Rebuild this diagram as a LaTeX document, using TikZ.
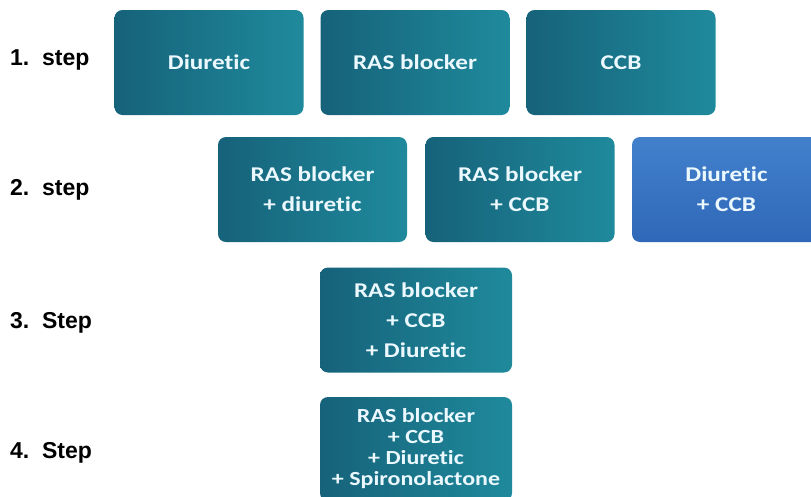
\documentclass[tikz,border=0pt]{standalone}
\usepackage{fontspec}
\setmainfont{Liberation Sans}
\newfontfamily\boxfont[FakeStretch=1.2,Ligatures=NoCommon]{Carlito}
\definecolor{tealdark}{HTML}{16627A}
\definecolor{teallight}{HTML}{1F8A9C}
\definecolor{bluetop}{HTML}{4280CC}
\definecolor{bluebot}{HTML}{2F68B8}
\tikzset{
    drug/.style={rounded corners=8pt, left color=tealdark, right color=teallight,
        minimum width=189pt, minimum height=105pt, inner sep=0pt, text=white!92!cyan,
        align=center, font=\boxfont\bfseries\fontsize{21}{30}\selectfont},
    drugblue/.style={drug, top color=bluetop, bottom color=bluebot},
    steplab/.style={anchor=west, inner sep=0pt, font=\bfseries\fontsize{23}{26}\selectfont}
}

\begin{document}
\begin{tikzpicture}[x=1pt,y=-1pt]
                \useasboundingbox (0,0) rectangle (811,496);
                \clip (0,0) rectangle (811,496);
                \foreach \n/\y/\s in {1/60/step,2/190/step,3/323/Step,4/453/Step}{
                    \node[steplab] (lab\n) at (10,\y) {\n.\ \ \s};
                }
                % step 1
                \node[drug] (dia1) at (209,62.5) {Diuretic};
                \node[drug] (ras1) at (415,62.5) {RAS blocker};
                \node[drug] (ccb1) at (621,62.5) {CCB};
                % step 2
                \node[drug] (rasdia2) at (312.5,189.5) {RAS blocker\\+ diuretic};
                \node[drug] (rasccb2) at (520,189.5) {RAS blocker\\+ CCB};
                \node[drugblue] (diaccb2) at (726.5,189.5) {Diuretic\\+ CCB};
                % step 3 and 4
                \node[drug, minimum width=192pt] (triple3) at (416,320) {RAS blocker\\+ CCB\\+ Diuretic};
                \node[drug, minimum width=192pt, minimum height=104pt,
                    font=\boxfont\bfseries\fontsize{20}{21}\selectfont] (quad4) at (416,449) {RAS blocker\\+ CCB\\+ Diuretic\\+ Spironolactone};
            \end{tikzpicture}
\end{document}
